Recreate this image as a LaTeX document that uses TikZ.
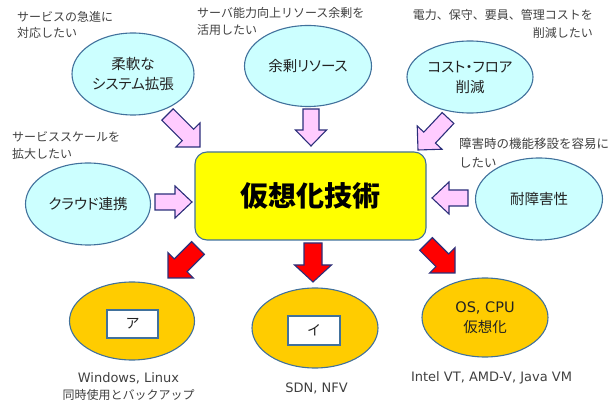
\documentclass[tikz,border=0pt]{standalone}
\usepackage{fontspec}
\setmainfont{Noto Sans CJK JP}
\newfontfamily\jpprop[RawFeature=+palt]{Noto Sans CJK JP}
\newfontfamily\dv{DejaVu Sans}
\usetikzlibrary{shapes.geometric,calc}
\definecolor{cyanfill}{HTML}{CCFFFF}
\definecolor{edgeblue}{HTML}{41719C}
\definecolor{yellowfill}{HTML}{FFFF00}
\definecolor{orangefill}{HTML}{FFCC00}
\definecolor{pinkfill}{HTML}{FFCCFF}
\definecolor{navy}{HTML}{2B2F7A}
\definecolor{redfill}{HTML}{FF0000}
\definecolor{labeltxt}{HTML}{404040}
\definecolor{maintxt}{HTML}{222222}
\newcommand\blockarr[6]{%
  \coordinate (#3b) at ($(#3)!#6!(#2)$);
  \draw[#1] ($(#2)!#4!90:(#3)$) -- ($(#3b)!#4!90:(#3)$) -- ($(#3b)!#5!90:(#3)$) -- (#3)
    -- ($(#3b)!#5!-90:(#3)$) -- ($(#3b)!#4!-90:(#3)$) -- ($(#2)!#4!-90:(#3)$) -- cycle;}
\begin{document}
\begin{tikzpicture}[x=1pt,y=-1pt,
  wish/.style={ellipse,draw=edgeblue,fill=cyanfill,line width=1.1pt,inner sep=0pt,align=center,
    text=maintxt,font=\jpprop\fontsize{14.5}{20}\selectfont},
  tech/.style={ellipse,draw=edgeblue,fill=orangefill,line width=1.1pt,inner sep=0pt,align=center,
    text=maintxt,font=\jpprop\fontsize{14.5}{20}\selectfont},
  blank/.style={rectangle,draw=edgeblue,fill=white,line width=1.1pt,inner sep=0pt,
    text=maintxt,font=\fontsize{14}{16}\selectfont},
  note/.style={inner sep=0pt,text=labeltxt,font=\fontsize{12}{17}\selectfont},
  latin/.style={inner sep=0pt,text=labeltxt,font=\dv\fontsize{13}{17}\selectfont},
  pinkarr/.style={fill=pinkfill,draw=navy,line width=1.1pt,line join=miter},
  redarr/.style={fill=redfill,draw=navy,line width=1.1pt,line join=miter}]
\useasboundingbox (0,0) rectangle (616,403);

% central box
\node[rectangle,rounded corners=12pt,draw=edgeblue,fill=yellowfill,line width=1.1pt,
  minimum width=231pt,minimum height=88pt,inner sep=0pt,
  font=\fontsize{28}{30}\selectfont\bfseries,text=black] (core) at (310.5,196) {仮想化技術};

% upper ellipses
\node[wish,minimum width=122pt,minimum height=82pt] (flex) at (133,74) {柔軟な\\システム拡張};
\node[wish,minimum width=127pt,minimum height=81pt] (spare) at (308,66) {余剰リソース};
\node[wish,minimum width=126pt,minimum height=72pt] (cost) at (470,77) {コスト・フロア\\削減};
\node[wish,minimum width=125pt,minimum height=82pt] (cloud) at (88,204) {クラウド連携};
\node[wish,minimum width=127pt,minimum height=82pt] (fault) at (539,199) {耐障害性};

% lower ellipses
\node[tech,minimum width=125pt,minimum height=78pt] (techA) at (132,321) {};
\node[blank,minimum width=51pt,minimum height=28pt] (boxA) at (132.5,324) {ア};
\node[tech,minimum width=126pt,minimum height=80pt] (techB) at (315,328) {};
\node[blank,minimum width=52pt,minimum height=29pt] (boxB) at (314,330.5) {イ};
\node[tech,minimum width=126pt,minimum height=79pt] (techC) at (485,317.5) {{\dv OS, CPU}\\仮想化};

% notes
\node[note,anchor=north west,align=left,font=\fontsize{12}{16.5}\selectfont] (n1) at (17,11) {サービスの急進に\\対応したい};
\node[note,anchor=north west,align=left] (n2) at (197,7) {サーバ能力向上リソース余剰を\\活用したい};
\node[note,anchor=north east,align=right,font=\fontsize{12}{18}\selectfont] (n3) at (593,9) {電力、保守、要員、管理コストを\\削減したい};
\node[note,anchor=north west,align=left] (n4) at (12,131) {サービススケールを\\拡大したい};
\node[note,anchor=north west,align=left,font=\fontsize{12.5}{19}\selectfont] (n5) at (459,138) {障害時の機能移設を容易に\\したい};
\node[latin,anchor=north,align=center] (n6) at (128.5,372) {Windows, Linux\\{\rmfamily\fontsize{12}{17}\selectfont 同時使用とバックアップ}};
\node[latin] (n7) at (316.5,388) {SDN, NFV};
\node[latin] (n8) at (491.5,378) {Intel VT, AMD-V, Java VM};

% pink arrows
\coordinate (tP1) at (167.5,114.5); \coordinate (hP1) at (200,147);
\coordinate (tP2) at (311,109);     \coordinate (hP2) at (311,146);
\coordinate (tP3) at (448,118);     \coordinate (hP3) at (418,150);
\coordinate (tP4) at (155,202);     \coordinate (hP4) at (192,202);
\coordinate (tP5) at (468,198);     \coordinate (hP5) at (432,198);
\blockarr{pinkarr}{tP1}{hP1}{8pt}{17pt}{17pt}
\blockarr{pinkarr}{tP2}{hP2}{8pt}{15.5pt}{16pt}
\blockarr{pinkarr}{tP3}{hP3}{8pt}{17pt}{17pt}
\blockarr{pinkarr}{tP4}{hP4}{8pt}{16pt}{17pt}
\blockarr{pinkarr}{tP5}{hP5}{8pt}{16pt}{17pt}

% red arrows
\coordinate (tR1) at (198,248); \coordinate (hR1) at (168,278);
\coordinate (tR2) at (313,243);     \coordinate (hR2) at (313,282);
\coordinate (tR3) at (426,244);     \coordinate (hR3) at (455,273);
\blockarr{redarr}{tR1}{hR1}{9pt}{18pt}{18pt}
\blockarr{redarr}{tR2}{hR2}{9pt}{18.5pt}{17pt}
\blockarr{redarr}{tR3}{hR3}{9pt}{18pt}{18pt}
\end{tikzpicture}
\end{document}
